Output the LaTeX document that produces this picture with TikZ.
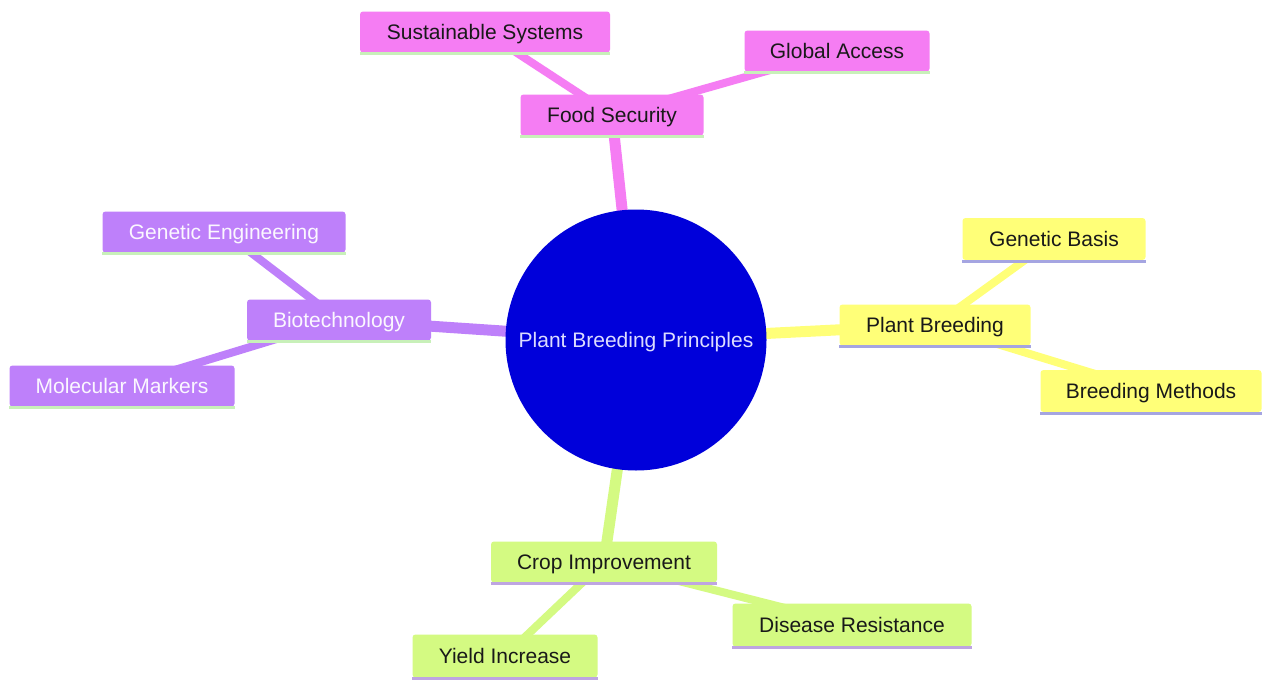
\documentclass[tikz,border=0pt]{standalone}
\usepackage{fontspec}
\setmainfont{Liberation Sans}
\usetikzlibrary{backgrounds}
\definecolor{pinkc}{RGB}{245,125,243}
\definecolor{purplec}{RGB}{190,128,250}
\definecolor{yellowc}{RGB}{255,255,120}
\definecolor{greenc}{RGB}{212,250,130}
\definecolor{ulgreen}{RGB}{200,240,185}
\definecolor{ulblue}{RGB}{165,165,225}
\definecolor{ulviolet}{RGB}{190,165,225}
\definecolor{rootc}{RGB}{0,0,218}
\definecolor{roottext}{RGB}{220,220,255}
\definecolor{darktext}{RGB}{25,25,25}
\tikzset{
  box/.style={rectangle, rounded corners=3pt, inner sep=0pt, text height=15pt, text depth=0pt, font=\fontsize{21}{25}\selectfont},
  pinkbox/.style={box, fill=pinkc, text=darktext},
  purplebox/.style={box, fill=purplec, text=white!94!purplec},
  yellowbox/.style={box, fill=yellowc, text=darktext},
  greenbox/.style={box, fill=greenc, text=darktext},
  rootnode/.style={circle, fill=rootc, minimum size=261pt, inner sep=0pt, text=roottext, text height=15pt, text depth=0pt, font=\fontsize{21}{25}\selectfont},
  thick edge/.style={line width=11pt},
  thin edge/.style={line width=8pt},
  under/.style={line width=3pt}
}
\begin{document}
\begin{tikzpicture}[x=1pt,y=-1pt]
\useasboundingbox (0,0) rectangle (1262,680);
\node[rootnode] (root) at (636,340) {Plant Breeding Principles};
% Food Security
\node[pinkbox, minimum width=183pt, minimum height=41pt] (fs) at (612,115) {Food Security};
\node[pinkbox, minimum width=250pt, minimum height=41pt] (ss) at (485,32) {Sustainable Systems};
\node[pinkbox, minimum width=185pt, minimum height=41pt] (ga) at (837,51) {Global Access};
% Plant Breeding
\node[yellowbox, minimum width=191pt, minimum height=41pt] (pb) at (935,325) {Plant Breeding};
\node[yellowbox, minimum width=183pt, minimum height=42pt] (gb) at (1054,239) {Genetic Basis};
\node[yellowbox, minimum width=221pt, minimum height=42pt] (bm) at (1151,391) {Breeding Methods};
% Biotechnology
\node[purplebox, minimum width=184pt, minimum height=41pt] (bt) at (339,320) {Biotechnology};
\node[purplebox, minimum width=243pt, minimum height=41pt] (ge) at (224,232) {Genetic Engineering};
\node[purplebox, minimum width=225pt, minimum height=41pt] (mm) at (122,386) {Molecular Markers};
% Crop Improvement
\node[greenbox, minimum width=226pt, minimum height=41pt] (ci) at (604,562) {Crop Improvement};
\node[greenbox, minimum width=239pt, minimum height=43pt] (dr) at (852,625) {Disease Resistance};
\node[greenbox, minimum width=185pt, minimum height=43pt] (yi) at (505,656) {Yield Increase};
% underlines
\foreach \n/\c in {fs/ulgreen, ss/ulgreen, ga/ulgreen, bt/ulgreen, ge/ulgreen, mm/ulgreen, pb/ulblue, gb/ulblue, bm/ulblue, ci/ulviolet, dr/ulviolet, yi/ulviolet}
  \draw[under, \c] ([yshift=-1pt]\n.south west) -- ([yshift=-1pt]\n.south east);
\begin{scope}[on background layer]
\fill[white] (0,0) rectangle (1262,680);
\draw[thick edge, pinkc] (root.center) -- (fs.center);
\draw[thin edge, pinkc] (fs.center) -- (ss.center);
\draw[thin edge, pinkc] (fs.center) -- (ga.center);
\draw[thick edge, yellowc] (root.center) -- (pb.center);
\draw[thin edge, yellowc] (pb.center) -- (gb.center);
\draw[thin edge, yellowc] (pb.center) -- (bm.center);
\draw[thick edge, purplec] (root.center) -- (bt.center);
\draw[thin edge, purplec] (bt.center) -- (ge.center);
\draw[thin edge, purplec] (bt.center) -- (mm.center);
\draw[thick edge, greenc] (root.center) -- (ci.center);
\draw[thin edge, greenc] (ci.center) -- (dr.center);
\draw[thin edge, greenc] (ci.center) -- (yi.center);
\end{scope}
\end{tikzpicture}
\end{document}
